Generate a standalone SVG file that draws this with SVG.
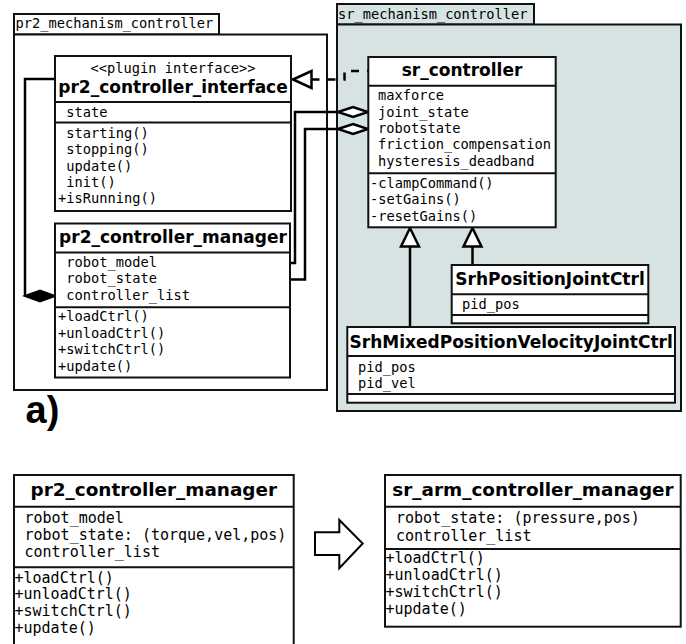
<svg xmlns="http://www.w3.org/2000/svg" width="686" height="644" viewBox="0 0 686 644">
  <style>
    .pkg { fill: #ffffff; stroke: #111; stroke-width: 2; }
    .pkg2 { fill: #d6e3e2; stroke: #111; stroke-width: 2; }
    .box { fill: #ffffff; stroke: #111; stroke-width: 2; }
    .sep { stroke: #111; stroke-width: 2; fill: none; }
    .title { font-family: "DejaVu Sans", "Noto Sans", sans-serif; font-weight: bold; font-size: 17px; text-anchor: middle; fill: #000; }
    .title-lg { font-size: 18.4px; }
    .mono { font-family: "DejaVu Sans Mono", "Liberation Mono", monospace; font-size: 13.7px; fill: #000; }
    .mono-lg { font-size: 15px; }
    .conn { fill: none; stroke: #000; stroke-width: 2.5; }
    .dash { stroke-dasharray: 8 8; }
    .head-open { fill: #ffffff; stroke: #000; stroke-width: 2.5; stroke-linejoin: miter; }
    .head-solid { fill: #000; stroke: #000; stroke-width: 2; }
    .label { font-family: "Liberation Sans", Arial, sans-serif; font-weight: bold; font-size: 38px; fill: #000; }
  </style>

  <!-- packages -->
  <g id="pkg-pr2">
    <rect class="pkg" x="14" y="14" width="205" height="20.5"/>
    <rect class="pkg" x="14" y="34.5" width="313" height="355.5"/>
    <text class="mono" x="15.5" y="28.3">pr2_mechanism_controller</text>
  </g>
  <g id="pkg-sr">
    <rect class="pkg2" x="337" y="4" width="197" height="20.5"/>
    <rect class="pkg2" x="337" y="24.5" width="344" height="386.5"/>
    <text class="mono" x="338" y="18.8">sr_mechanism_controller</text>
  </g>

  <!-- connectors -->
  <g id="connectors">
    <!-- realization: sr_controller implements pr2_controller_interface -->
    <path class="conn dash" d="M311.5,79.5 H344.5 V71 H368"/>
    <polygon class="head-open" points="293,79.5 311.5,71 311.5,88"/>
    <!-- composition: manager owns controller list -->
    <path class="conn" d="M55,79 H25 V296"/>
    <polygon class="head-solid" points="25,296 40,290.5 55,296 40,301.5"/>
    <!-- aggregation: robot_model -> joint_state -->
    <path class="conn" d="M290,263 H295 V112 H338"/>
    <polygon class="head-open" points="338,112 353,107 368,112 353,117"/>
    <!-- aggregation: robot_state -> robotstate -->
    <path class="conn" d="M290,279.5 H305 V129 H338"/>
    <polygon class="head-open" points="338,129 353,124 368,129 353,134"/>
    <!-- generalization -->
    <path class="conn" d="M410,246.5 V327"/>
    <polygon class="head-open" points="410,228 401,246.5 419,246.5"/>
    <path class="conn" d="M472.5,246.5 V265"/>
    <polygon class="head-open" points="472.5,228 463.5,246.5 481.5,246.5"/>
  </g>

  <!-- pr2_controller_interface -->
  <g id="pr2_controller_interface">
    <rect class="box" x="55" y="56" width="236" height="155"/>
    <line class="sep" x1="55" y1="102" x2="291" y2="102"/>
    <line class="sep" x1="55" y1="122.5" x2="291" y2="122.5"/>
    <text class="mono" x="173" y="72.7" text-anchor="middle">&lt;&lt;plugin interface&gt;&gt;</text>
    <text class="title" x="173" y="93.3">pr2_controller_interface</text>
    <text class="mono" x="66.3" y="117">state</text>
    <text class="mono" x="66.3" y="137.5">starting()</text>
    <text class="mono" x="66.3" y="154">stopping()</text>
    <text class="mono" x="66.3" y="170.5">update()</text>
    <text class="mono" x="66.3" y="186.8">init()</text>
    <text class="mono" x="58" y="203.2">+isRunning()</text>
  </g>

  <!-- pr2_controller_manager (inside package) -->
  <g id="pr2_controller_manager">
    <rect class="box" x="55" y="223.5" width="235" height="154"/>
    <line class="sep" x1="55" y1="252.5" x2="290" y2="252.5"/>
    <line class="sep" x1="55" y1="307.3" x2="290" y2="307.3"/>
    <text class="title" x="173" y="243.3">pr2_controller_manager</text>
    <text class="mono" x="66.3" y="266.7">robot_model</text>
    <text class="mono" x="66.3" y="283">robot_state</text>
    <text class="mono" x="66.3" y="299.5">controller_list</text>
    <text class="mono" x="58" y="321">+loadCtrl()</text>
    <text class="mono" x="58" y="337.5">+unloadCtrl()</text>
    <text class="mono" x="58" y="354">+switchCtrl()</text>
    <text class="mono" x="58" y="370.5">+update()</text>
  </g>

  <!-- sr_controller -->
  <g id="sr_controller">
    <rect class="box" x="368.3" y="57" width="187.4" height="170.3"/>
    <line class="sep" x1="368.3" y1="85.7" x2="555.7" y2="85.7"/>
    <line class="sep" x1="368.3" y1="173.3" x2="555.7" y2="173.3"/>
    <text class="title" x="462" y="76">sr_controller</text>
    <text class="mono" x="378" y="100">maxforce</text>
    <text class="mono" x="378" y="116.5">joint_state</text>
    <text class="mono" x="378" y="132.8">robotstate</text>
    <text class="mono" x="378" y="149.2">friction_compensation</text>
    <text class="mono" x="378" y="165.6">hysteresis_deadband</text>
    <text class="mono" x="370" y="187.7">-clampCommand()</text>
    <text class="mono" x="370" y="204">-setGains()</text>
    <text class="mono" x="370" y="220.5">-resetGains()</text>
  </g>

  <!-- SrhPositionJointCtrl -->
  <g id="SrhPositionJointCtrl">
    <rect class="box" x="451.7" y="265" width="196.6" height="58.3"/>
    <line class="sep" x1="451.7" y1="294.3" x2="648.3" y2="294.3"/>
    <line class="sep" x1="451.7" y1="315" x2="648.3" y2="315"/>
    <text class="title" x="550" y="285">SrhPositionJointCtrl</text>
    <text class="mono" x="462" y="309.3">pid_pos</text>
  </g>

  <!-- SrhMixedPositionVelocityJointCtrl -->
  <g id="SrhMixedPositionVelocityJointCtrl">
    <rect class="box" x="347.3" y="327" width="327.7" height="75.7"/>
    <line class="sep" x1="347.3" y1="356" x2="675" y2="356"/>
    <line class="sep" x1="347.3" y1="394" x2="675" y2="394"/>
    <text class="title" x="511.2" y="347.7">SrhMixedPositionVelocityJointCtrl</text>
    <text class="mono" x="358" y="371.7">pid_pos</text>
    <text class="mono" x="358" y="388.2">pid_vel</text>
  </g>

  <!-- panel label -->
  <text class="label" x="25.5" y="423">a)</text>

  <!-- pr2_controller_manager (comparison) -->
  <g id="pr2_manager_before">
    <rect class="box" x="14" y="475" width="279.7" height="180"/>
    <line class="sep" x1="14" y1="506.7" x2="293.7" y2="506.7"/>
    <line class="sep" x1="14" y1="567.3" x2="293.7" y2="567.3"/>
    <text class="title title-lg" x="153.8" y="496">pr2_controller_manager</text>
    <text class="mono mono-lg" x="24.5" y="523.3">robot_model</text>
    <text class="mono mono-lg" x="24.5" y="540">robot_state: (torque,vel,pos)</text>
    <text class="mono mono-lg" x="24.5" y="557">controller_list</text>
    <text class="mono mono-lg" x="14.5" y="582.5">+loadCtrl()</text>
    <text class="mono mono-lg" x="14.5" y="599.2">+unloadCtrl()</text>
    <text class="mono mono-lg" x="14.5" y="615.9">+switchCtrl()</text>
    <text class="mono mono-lg" x="14.5" y="632.6">+update()</text>
  </g>

  <!-- block arrow between the two managers -->
  <g id="transition-arrow">
    <polygon points="315,532.3 339.3,532.3 339.3,520 362.7,543.5 339.3,568.3 339.3,555 315,555" fill="#ffffff" stroke="#000" stroke-width="2"/>
  </g>

  <!-- sr_arm_controller_manager -->
  <g id="sr_arm_controller_manager">
    <rect class="box" x="385" y="475" width="295.7" height="151.7"/>
    <line class="sep" x1="385" y1="506.7" x2="680.7" y2="506.7"/>
    <line class="sep" x1="385" y1="549" x2="680.7" y2="549"/>
    <text class="title title-lg" x="533" y="496">sr_arm_controller_manager</text>
    <text class="mono mono-lg" x="396" y="523.3">robot_state: (pressure,pos)</text>
    <text class="mono mono-lg" x="396" y="540.5">controller_list</text>
    <text class="mono mono-lg" x="385.5" y="563.3">+loadCtrl()</text>
    <text class="mono mono-lg" x="385.5" y="580.2">+unloadCtrl()</text>
    <text class="mono mono-lg" x="385.5" y="597">+switchCtrl()</text>
    <text class="mono mono-lg" x="385.5" y="613.8">+update()</text>
  </g>
</svg>
